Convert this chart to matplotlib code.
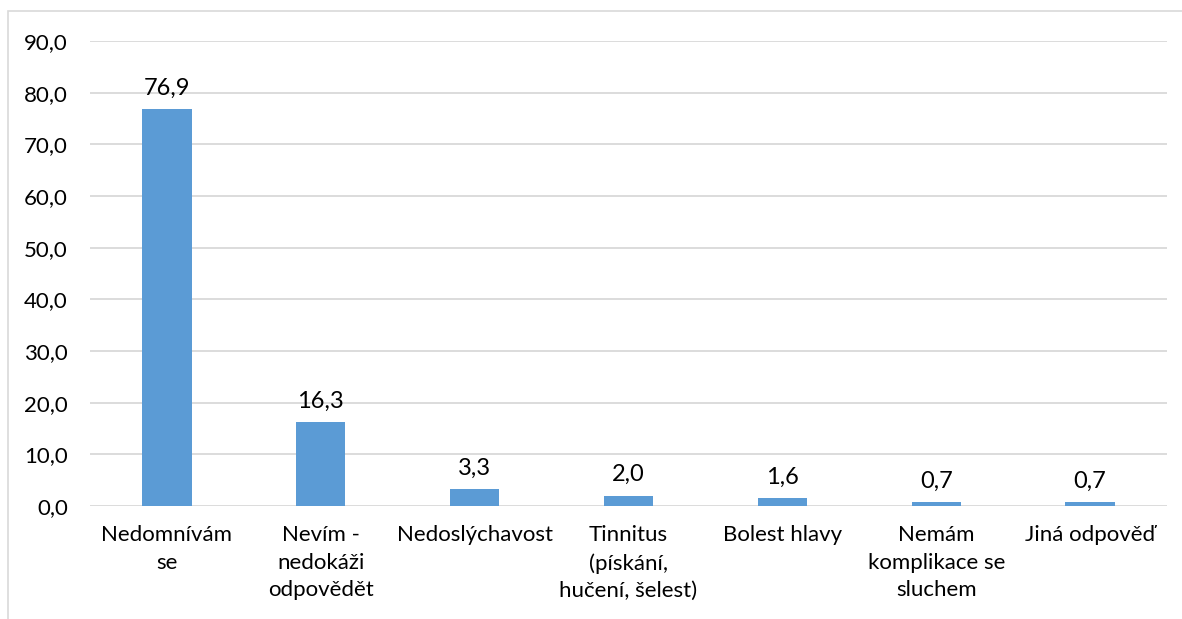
import numpy as np
import matplotlib.pyplot as plt
from matplotlib.patches import Rectangle

categories = [
    "Nedomnívám\nse",
    "Nevím -\nnedokáži\nodpovědět",
    "Nedoslýchavost",
    "Tinnitus\n(pískání,\nhučení, šelest)",
    "Bolest hlavy",
    "Nemám\nkomplikace se\nsluchem",
    "Jiná odpověď",
]
values = [76.9, 16.3, 3.3, 2.0, 1.6, 0.7, 0.7]
yticks = [0, 10, 20, 30, 40, 50, 60, 70, 80, 90]

plt.rcParams["font.family"] = ["Lato", "DejaVu Sans"]

W, H = 1182, 619
fig = plt.figure(figsize=(W / 100, H / 100), dpi=100)

# plot area in pixel coords
left, right, top, bottom = 90, 1167, 41, 506
ax = fig.add_axes([left / W, 1 - bottom / H, (right - left) / W, (bottom - top) / H])

x = np.arange(len(categories))
ax.bar(x, values, width=0.32, color="#5B9BD5", zorder=3)
for xi, v in zip(x, values):
    ax.text(xi, v + 2.0, f"{v:.1f}".replace(".", ","), ha="center", va="bottom",
            fontsize=17, color="#000000")

ax.set_xlim(-0.5, len(categories) - 0.5)
ax.set_ylim(0, 90)
ax.set_yticks(yticks)
ax.set_yticklabels([f"{t:.1f}".replace(".", ",") for t in yticks], fontsize=16)
ax.set_xticks(x)
ax.set_xticklabels(categories, fontsize=16, linespacing=1.45, va="top")
ax.tick_params(axis="both", length=0)
ax.tick_params(axis="x", pad=14)
ax.tick_params(axis="y", pad=16)
ax.grid(axis="y", color="#D9D9D9", linewidth=1.3, zorder=0)
for s in ax.spines.values():
    s.set_visible(False)

# chart frame
fig.patches.append(Rectangle((8 / W, -0.05), 1.2, 1 - 11 / H + 0.05,
                             transform=fig.transFigure, fill=False,
                             edgecolor="#D9D9D9", linewidth=1.2))

fig.savefig("out.png", dpi=100)
